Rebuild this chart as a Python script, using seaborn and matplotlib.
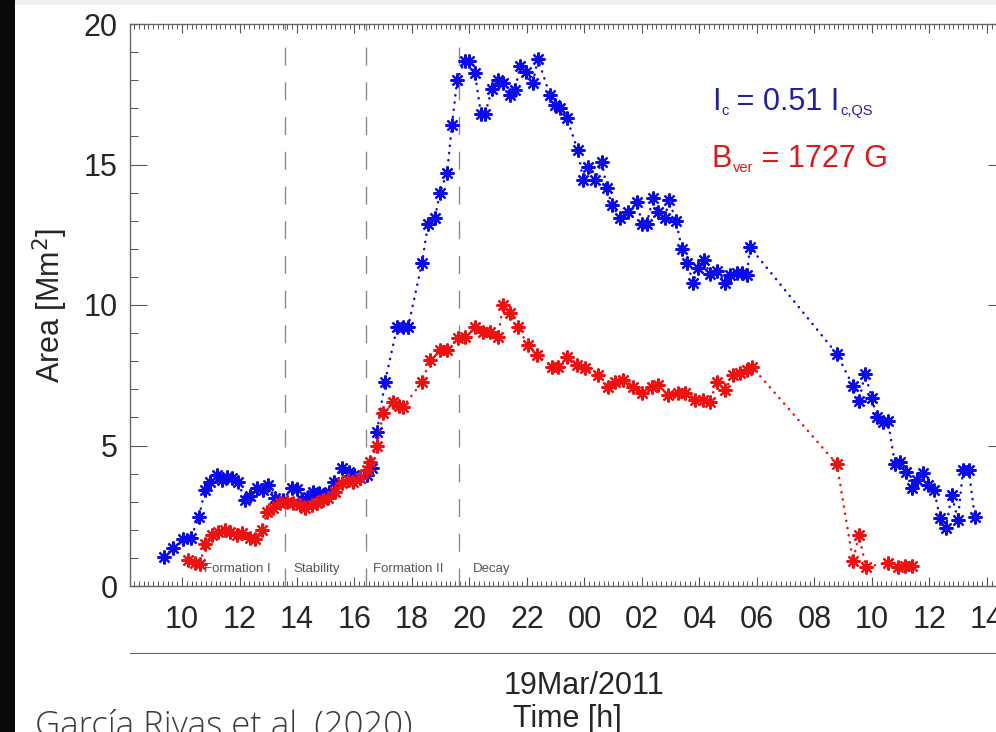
import matplotlib
matplotlib.use("Agg")
import matplotlib.pyplot as plt
from matplotlib.patches import Rectangle
from matplotlib.ticker import MultipleLocator, FixedLocator
import pandas as pd
import seaborn as sns

# Time in hours counted from 18 Mar 2011 00:00 UT
ic_time = [9.37, 9.69, 10.03, 10.30, 10.59, 10.80, 10.97, 11.22, 11.39, 11.57,
           11.74, 11.95, 12.19, 12.36, 12.60, 12.80, 13.00, 13.23, 13.50, 13.83,
           14.00, 14.17, 14.38, 14.56, 14.75, 14.95, 15.10, 15.30, 15.57, 15.80,
           16.00, 16.20, 16.43, 16.60, 16.78, 17.06, 17.48, 17.67, 17.86, 18.35,
           18.56, 18.80, 18.97, 19.22, 19.39, 19.57, 19.84, 19.98, 20.19, 20.40,
           20.55, 20.78, 21.00, 21.17, 21.40, 21.58, 21.76, 21.97, 22.20, 22.38,
           22.80, 22.97, 23.15, 23.39, 23.77, 23.95, 24.12, 24.37, 24.60, 24.78,
           24.96, 25.23, 25.50, 25.83, 26.00, 26.17, 26.38, 26.56, 26.80, 26.94,
           27.18, 27.39, 27.57, 27.78, 27.95, 28.16, 28.37, 28.60, 28.90, 29.06,
           29.30, 29.48, 29.65, 29.76, 32.78, 33.34, 33.55, 33.76, 34.00, 34.17,
           34.38, 34.56, 34.80, 34.97, 35.18, 35.40, 35.57, 35.77, 35.95, 36.16,
           36.37, 36.57, 36.78, 36.99, 37.17, 37.37, 37.58]
ic_area = [1.03, 1.35, 1.67, 1.70, 2.46, 3.42, 3.70, 3.95, 3.77, 3.88,
           3.84, 3.70, 3.06, 3.20, 3.50, 3.40, 3.60, 3.13, 3.05, 3.50,
           3.45, 3.06, 3.15, 3.35, 3.30, 3.20, 3.35, 3.70, 4.20, 4.05,
           3.95, 3.85, 3.95, 4.20, 5.48, 7.26, 9.20, 9.20, 9.20, 11.50,
           12.90, 13.10, 14.00, 14.70, 16.40, 18.00, 18.70, 18.70, 18.25, 16.80,
           16.80, 17.70, 18.00, 17.90, 17.47, 17.65, 18.50, 18.30, 17.90, 18.75,
           17.47, 17.10, 17.00, 16.65, 15.50, 14.45, 14.90, 14.45, 15.10, 14.15,
           13.55, 13.10, 13.30, 13.65, 12.90, 12.90, 13.80, 13.30, 13.10, 13.74,
           13.00, 12.00, 11.50, 10.80, 11.30, 11.60, 11.10, 11.20, 10.80, 11.07,
           11.14, 11.14, 11.07, 12.06, 8.26, 7.12, 6.58, 7.55, 6.69, 6.00,
           5.84, 5.87, 4.34, 4.41, 4.06, 3.49, 3.77, 4.02, 3.59, 3.42,
           2.42, 2.06, 3.24, 2.35, 4.13, 4.13, 2.46]

bv_time = [10.20, 10.45, 10.63, 10.80, 11.04, 11.25, 11.50, 11.67, 11.90, 12.10,
           12.37, 12.54, 12.78, 12.96, 13.17, 13.40, 13.65, 13.86, 14.10, 14.28,
           14.52, 14.70, 14.90, 15.08, 15.32, 15.57, 15.77, 15.95, 16.19, 16.43,
           16.54, 16.78, 17.00, 17.34, 17.55, 17.69, 18.35, 18.63, 18.97, 19.22,
           19.60, 19.84, 20.19, 20.47, 20.71, 20.99, 21.17, 21.41, 21.69, 22.03,
           22.35, 22.87, 23.08, 23.39, 23.74, 24.02, 24.47, 24.82, 25.06, 25.34,
           25.69, 26.00, 26.35, 26.56, 26.90, 27.25, 27.50, 27.84, 28.12, 28.37,
           28.60, 28.89, 29.17, 29.41, 29.65, 29.83, 32.78, 33.34, 33.55, 33.79,
           34.56, 34.90, 35.15, 35.39]
bv_area = [0.93, 0.82, 0.78, 1.50, 1.81, 1.92, 2.00, 1.92, 1.81, 1.89,
           1.70, 1.67, 1.99, 2.63, 2.77, 2.95, 2.99, 2.95, 2.88, 2.77,
           2.88, 2.95, 3.06, 3.13, 3.35, 3.67, 3.77, 3.70, 3.84, 4.13,
           4.41, 5.00, 6.15, 6.55, 6.40, 6.37, 7.26, 8.04, 8.40, 8.40,
           8.83, 8.86, 9.20, 9.04, 9.04, 8.86, 10.00, 9.70, 9.20, 8.58,
           8.22, 7.80, 7.80, 8.15, 7.86, 7.76, 7.50, 7.08, 7.26, 7.33,
           7.08, 6.87, 7.08, 7.15, 6.80, 6.87, 6.87, 6.62, 6.62, 6.55,
           7.26, 6.98, 7.50, 7.58, 7.69, 7.80, 4.34, 0.89, 1.81, 0.68,
           0.82, 0.68, 0.71, 0.71]

phase_bounds = [13.59, 16.41, 19.65]
phase_names = ["Formation I", "Stability", "Formation II", "Decay"]
phase_label_x = [10.77, 13.86, 16.64, 20.12]

hour_ticks = list(range(10, 39, 2))
hour_labels = [f"{h % 24:02d}" for h in hour_ticks]
date_tick = [24]
date_label = ["19Mar/2011"]

# threshold labels as (text, is_subscript) pieces
ic_label = [("I", False), ("c", True), (" = 0.51 I", False), ("c,QS", True)]
bv_label = [("B", False), ("ver", True), (" = 1727 G", False)]

BLUE = "#0a0af0"
RED = "#f01010"

sns.set_style("white")
plt.rcParams.update({
    "font.family": ["Liberation Sans", "DejaVu Sans"],
})

fig = plt.figure(figsize=(9.96, 7.32), dpi=100)
fig.patch.set_facecolor("white")
# dark slide edge on the left and light strip on top
fig.patches.append(Rectangle((0, 0), 15 / 996, 1, transform=fig.transFigure,
                             facecolor="#0c0a09", edgecolor="none", zorder=0))
fig.patches.append(Rectangle((15 / 996, 1 - 5 / 732), 1, 5 / 732,
                             transform=fig.transFigure, facecolor="#eeeeee",
                             edgecolor="none", zorder=0))

x0, x1 = 8.19, 38.63
ax = fig.add_axes([130 / 996, 1 - 586 / 732, 875 / 996, 562 / 732])

ic_df = pd.DataFrame({"time": ic_time, "area": ic_area})
bv_df = pd.DataFrame({"time": bv_time, "area": bv_area})

line_kw = dict(marker=(8, 2, 0), markersize=10, markeredgewidth=1.6,
               linewidth=1.8, linestyle=(0, (0.1, 2.8)),
               dash_capstyle="round", estimator=None, sort=False,
               legend=False)
sns.lineplot(data=ic_df, x="time", y="area", ax=ax, color=BLUE,
             markeredgecolor=BLUE, **line_kw)
sns.lineplot(data=bv_df, x="time", y="area", ax=ax, color=RED,
             markeredgecolor=RED, **line_kw)

for xb in phase_bounds:
    ax.axvline(xb, color="#8c8c8c", linewidth=1.0, dashes=(13, 12), zorder=1)
for xl, name in zip(phase_label_x, phase_names):
    ax.text(xl, 0.6, name, fontsize=9.5, color="#555555", va="center")

ax.set_xlim(x0, x1)
ax.set_ylim(0, 20)
ax.xaxis.set_major_locator(FixedLocator(hour_ticks))
ax.set_xticklabels(hour_labels)
ax.xaxis.set_minor_locator(MultipleLocator(1 / 6))
ax.yaxis.set_major_locator(MultipleLocator(5))
ax.yaxis.set_minor_locator(MultipleLocator(1))
ax.tick_params(axis="x", which="major", direction="in", length=6.5, width=0.8,
               top=True, bottom=True, labelsize=22, pad=14, color="#555555")
ax.tick_params(axis="x", which="minor", direction="in", length=3.5, width=0.7,
               top=True, bottom=True, color="#555555")
ax.tick_params(axis="y", which="major", direction="in", length=12, width=0.8,
               left=True, right=True, labelsize=22, pad=9, color="#555555")
ax.tick_params(axis="y", which="minor", direction="in", length=6, width=0.7,
               left=True, right=True, color="#555555")
for s in ax.spines.values():
    s.set_color("#666666")
    s.set_linewidth(1.0)
ax.set_xlabel("")
ax.set_ylabel("Area [Mm$^2$]", fontsize=22)
ax.yaxis.set_label_coords(-0.091, 0.5)
ax.yaxis.label.set_verticalalignment("center")


def pieced_label(axis, x, y, pieces, color, size=22, sub_size=10.5):
    """Write text with small, lowered subscripts, piece after piece."""
    first = axis.text(x, y, pieces[0][0], color=color, fontsize=size,
                      va="baseline")
    prev, base = first, first
    for text, is_sub in pieces[1:]:
        if is_sub:
            t = axis.annotate(text, xy=(1, 0), xycoords=(prev, base),
                              xytext=(0.5, -1), textcoords="offset points",
                              color=color, fontsize=sub_size, va="bottom")
        else:
            t = axis.annotate(text, xy=(1, 0), xycoords=(prev, base),
                              xytext=(0, 0), textcoords="offset points",
                              color=color, fontsize=size, va="bottom")
            base = t
        prev = t


pieced_label(ax, 28.43, 16.95, ic_label, "#2020a8")
pieced_label(ax, 28.43, 14.92, bv_label, "#e01818")

# date axis below the hour axis
ax2 = fig.add_axes([130 / 996, 1 - 653 / 732, 875 / 996, 1e-4])
ax2.set_xlim(x0, x1)
ax2.set_ylim(0, 1)
ax2.set_yticks([])
for side in ["top", "left", "right"]:
    ax2.spines[side].set_visible(False)
ax2.spines["bottom"].set_color("#666666")
ax2.patch.set_alpha(0)
ax2.xaxis.set_major_locator(FixedLocator(date_tick))
ax2.set_xticklabels(date_label)
ax2.tick_params(axis="x", direction="in", length=6.5, width=0.8,
                labelsize=22, pad=13, color="#555555")
ax2.set_xlabel("Time [h]", fontsize=22, labelpad=2)

fig.text(35 / 996, 1 - 709 / 732, "García Rivas et al. (2020)",
         family="Open Sans", fontweight="light", fontsize=25,
         color="#3c3c3c", va="top")

fig.savefig("out.png", dpi=100)
